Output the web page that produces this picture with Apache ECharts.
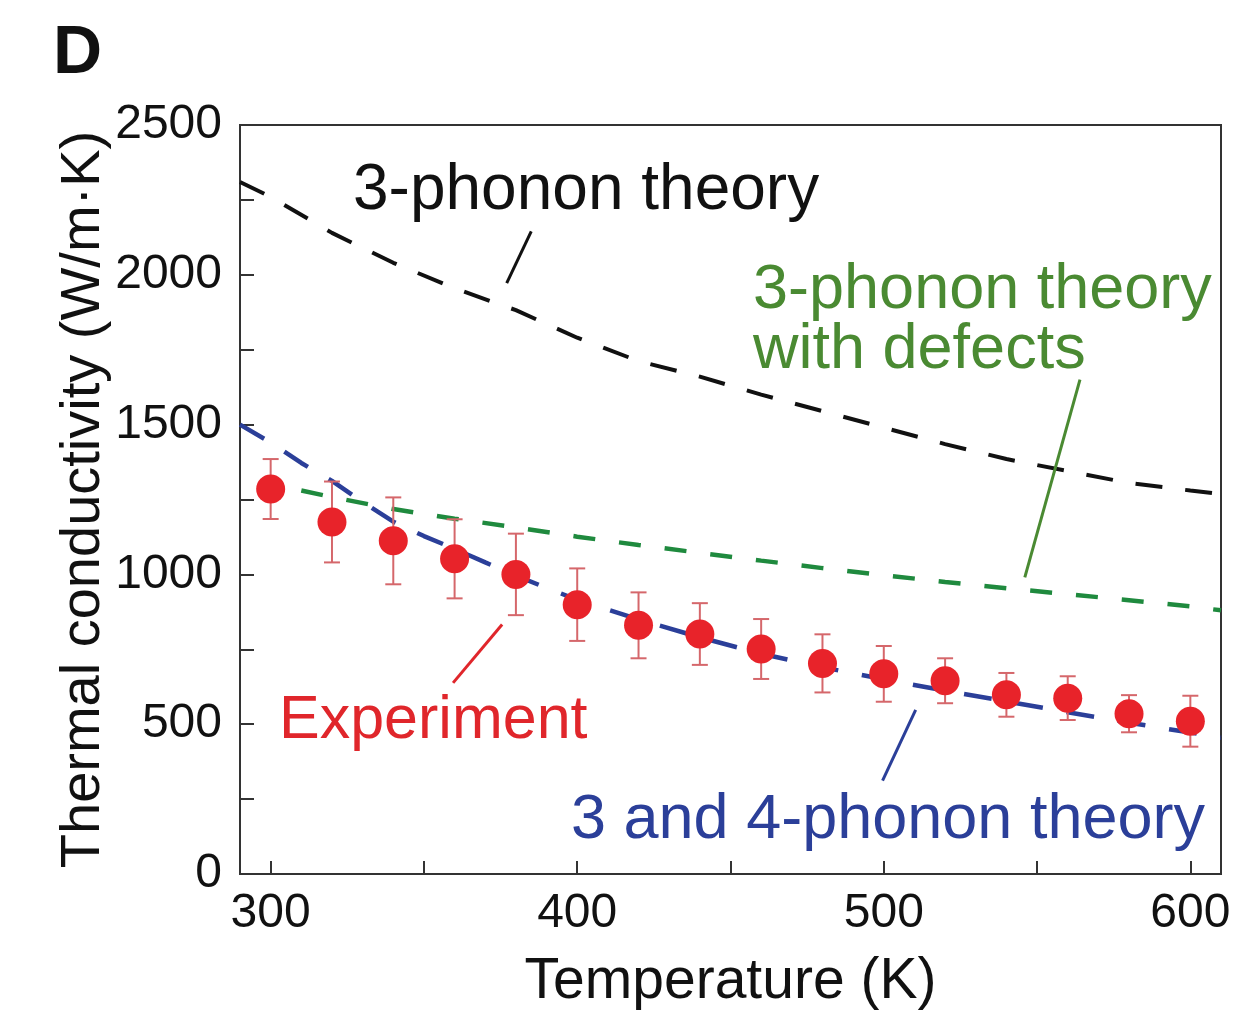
<!DOCTYPE html>
<html>
<head>
<meta charset="utf-8">
<script src="https://cdn.jsdelivr.net/npm/echarts@6/dist/echarts.min.js"></script>
<style>
  html, body { margin: 0; padding: 0; background: #fff; }
  #chart { width: 1241px; height: 1016px; }
</style>
</head>
<body>
<div id="chart"></div>
<script>
// 3-phonon theory (black dashed)
const threePhononT = [290, 300, 320, 340, 360, 380, 400, 420, 440, 460, 480, 500, 520, 540, 560, 580, 600, 610];
const threePhononK = [2310, 2260, 2140, 2040, 1955, 1882, 1790, 1712, 1660, 1600, 1545, 1490, 1435, 1385, 1345, 1305, 1280, 1268];

// 3-phonon theory with defects (green dashed)
const defectsT = [310, 320, 340, 360, 380, 400, 420, 440, 460, 480, 500, 520, 540, 560, 580, 600, 610];
const defectsK = [1280, 1258, 1218, 1186, 1157, 1126, 1098, 1072, 1046, 1021, 997, 975, 954, 934, 914, 893, 880];

// 3 and 4-phonon theory (blue dashed)
const fourPhononT = [290, 300, 310, 320, 330, 340, 350, 360, 370, 380, 390, 400, 420, 440, 460, 480, 500, 520, 540, 560, 580, 600, 610];
const fourPhononK = [1500, 1440, 1372, 1312, 1242, 1176, 1128, 1085, 1040, 996, 955, 915, 850, 790, 735, 690, 650, 612, 576, 540, 505, 472, 455];

// experiment with error bars
const expT = [300, 320, 340, 360, 380, 400, 420, 440, 460, 480, 500, 520, 540, 560, 580, 600];
const expK = [1285, 1175, 1112, 1052, 1000, 899, 830, 801, 751, 703, 668, 645, 598, 587, 535, 510];
const expErr = [100, 135, 145, 132, 136, 121, 110, 103, 100, 97, 93, 75, 73, 73, 62, 85];

// annotation pointer lines, in data coordinates
const pointerBlack = [[377, 1972], [385, 2145]];
const pointerGreen = [[546, 990], [564, 1650]];
const pointerRed = [[359.5, 638], [375.5, 833]];
const pointerBlue = [[499.6, 312], [510.4, 548]];

const xTicks = [300, 350, 400, 450, 500, 550, 600];
const xLabels = [300, 400, 500, 600];

const FONT = "'Liberation Sans', Arial, Helvetica, sans-serif";
const zip = (xs, ys) => xs.map((x, i) => [x, ys[i]]);

const chart = echarts.init(document.getElementById("chart"));

const pointer = (pts, color) => ({
  type: "line",
  data: pts,
  symbol: "none",
  silent: true,
  lineStyle: { color: color, width: 3, type: "solid" },
  z: 4,
});

const option = {
  animation: false,
  backgroundColor: "#fff",
  grid: {
    left: 240, right: 20, top: 125, bottom: 139,
    show: true, borderColor: "#333", borderWidth: 2,
  },
  xAxis: {
    type: "value",
    min: 290, max: 610,
    name: "Temperature (K)",
    nameLocation: "middle",
    nameGap: 80,
    nameTextStyle: { fontFamily: FONT, fontSize: 57, color: "#111" },
    axisLine: { show: true, lineStyle: { color: "#333", width: 2 } },
    axisTick: { show: true, inside: true, length: 13, customValues: xTicks, lineStyle: { color: "#333", width: 2 } },
    axisLabel: { customValues: xLabels, fontFamily: FONT, fontSize: 48, color: "#111", margin: 16 },
    splitLine: { show: false },
  },
  yAxis: {
    type: "value",
    min: 0, max: 2500, interval: 250,
    name: "Thermal conductivity (W/m·K)",
    nameLocation: "middle",
    nameGap: 128,
    nameMoveOverlap: false,
    nameTextStyle: { fontFamily: FONT, fontSize: 56, color: "#111" },
    axisLine: { show: true, lineStyle: { color: "#333", width: 2 } },
    axisTick: { show: true, inside: true, length: 14, lineStyle: { color: "#333", width: 2 } },
    axisLabel: {
      fontFamily: FONT, fontSize: 48, color: "#111", margin: 18,
      formatter: v => (v % 500 === 0 ? String(v) : ""),
    },
    splitLine: { show: false },
  },
  series: [
    {
      name: "3-phonon theory",
      type: "line",
      data: zip(threePhononT, threePhononK),
      symbol: "none",
      lineStyle: { color: "#111", width: 4, type: [27, 23] },
      z: 2,
    },
    {
      name: "3-phonon theory with defects",
      type: "line",
      data: zip(defectsT, defectsK),
      symbol: "none",
      lineStyle: { color: "#1f8a3e", width: 4.5, type: [22, 24] },
      z: 2,
    },
    {
      name: "3 and 4-phonon theory",
      type: "line",
      data: zip(fourPhononT, fourPhononK),
      symbol: "none",
      lineStyle: { color: "#2b3f99", width: 4.5, type: [28, 24] },
      z: 2,
    },
    {
      name: "error",
      type: "custom",
      data: expT.map((t, i) => [t, expK[i] - expErr[i], expK[i] + expErr[i]]),
      renderItem: (params, api) => {
        const lo = api.coord([api.value(0), api.value(1)]);
        const hi = api.coord([api.value(0), api.value(2)]);
        const w = 8;
        const style = { stroke: "#d5676b", lineWidth: 2 };
        return {
          type: "group",
          children: [
            { type: "line", shape: { x1: lo[0], y1: lo[1], x2: hi[0], y2: hi[1] }, style },
            { type: "line", shape: { x1: lo[0] - w, y1: lo[1], x2: lo[0] + w, y2: lo[1] }, style },
            { type: "line", shape: { x1: hi[0] - w, y1: hi[1], x2: hi[0] + w, y2: hi[1] }, style },
          ],
        };
      },
      z: 3,
    },
    {
      name: "Experiment",
      type: "scatter",
      data: zip(expT, expK),
      symbolSize: 29,
      itemStyle: { color: "#e8232a", opacity: 1 },
      z: 5,
    },
    pointer(pointerBlack, "#111"),
    pointer(pointerGreen, "#4a8a32"),
    pointer(pointerRed, "#e0262b"),
    pointer(pointerBlue, "#2b3f99"),
  ],
  graphic: [
    { type: "text", left: 53, top: 20, style: { text: "D", font: "bold 68px " + FONT, fill: "#111" } },
    { type: "text", left: 353, top: 159, style: { text: "3-phonon theory", font: "64px " + FONT, fill: "#111" } },
    { type: "text", left: 753, top: 259, style: { text: "3-phonon theory\nwith defects", font: "63px " + FONT, fill: "#4a8a32", lineHeight: 60 } },
    { type: "text", left: 279, top: 691, style: { text: "Experiment", font: "61px " + FONT, fill: "#e0262b" } },
    { type: "text", left: 571, top: 789, style: { text: "3 and 4-phonon theory", font: "63px " + FONT, fill: "#2b3f99" } },
  ],
};

chart.setOption(option);
</script>
</body>
</html>
